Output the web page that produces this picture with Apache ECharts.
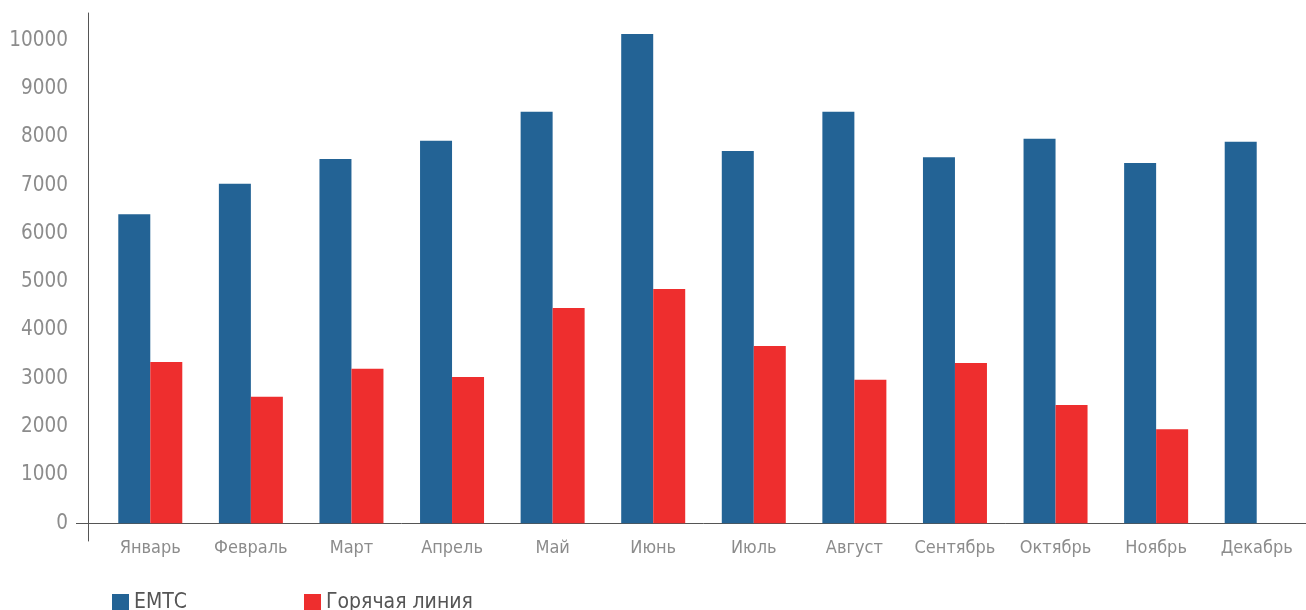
<!DOCTYPE html>
<html>
<head>
<meta charset="utf-8">
<script src="https://cdn.jsdelivr.net/npm/echarts@6/dist/echarts.min.js"></script>
<style>
  html, body { margin: 0; padding: 0; background: #fff; }
  #chart { width: 1306px; height: 610px; }
</style>
</head>
<body>
<div id="chart"></div>
<script>
var months = ['Январь', 'Февраль', 'Март', 'Апрель', 'Май', 'Июнь', 'Июль', 'Август', 'Сентябрь', 'Октябрь', 'Ноябрь', 'Декабрь'];
var emtc = [6400, 7030, 7540, 7920, 8520, 10130, 7710, 8520, 7580, 7960, 7460, 7900];
var hotline = [3340, 2620, 3200, 3030, 4460, 4850, 3670, 2970, 3320, 2450, 1950, 0];
var yTicks = [0, 1000, 2000, 3000, 4000, 5000, 6000, 7000, 8000, 9000, 10000];

var font = "'DejaVu Sans Condensed', 'DejaVu Sans', sans-serif";
var axisColor = '#555';
var labelColor = '#8c8c8c';

var chart = echarts.init(document.getElementById('chart'));
var option = {
    animation: false,
    textStyle: { fontFamily: font },
    grid: { left: 100, right: -1, top: 13, bottom: 69, outerBoundsMode: 'none' },
    legend: [
        { data: ['ЕМТС'], left: 112, top: 592, padding: 0, itemWidth: 17, itemHeight: 17,
          icon: 'rect', textStyle: { color: '#555', fontSize: 21, fontFamily: font } },
        { data: ['Горячая линия'], left: 304, top: 592, padding: 0, itemWidth: 17, itemHeight: 17,
          icon: 'rect', textStyle: { color: '#555', fontSize: 21, fontFamily: font } }
    ],
    xAxis: {
        type: 'category',
        data: months,
        axisLine: { onZero: true, lineStyle: { color: axisColor, width: 1 } },
        axisTick: { show: false },
        axisLabel: { interval: 0, color: labelColor, fontSize: 18, margin: -2, fontFamily: font }
    },
    yAxis: [
        {
            type: 'value',
            position: 'left',
            offset: 12,
            min: -366,
            max: 10565,
            axisLine: { show: true, lineStyle: { color: axisColor, width: 1 } },
            axisTick: { show: false },
            splitLine: { show: false },
            axisLabel: {
                customValues: yTicks, color: labelColor, fontSize: 20.5, margin: 20, fontFamily: font,
                padding: [7, 0, 0, 0],
                formatter: function (v) { return String(v); }
            }
        },
        {
            type: 'value',
            position: 'left',
            offset: 0,
            min: -366,
            max: 10565,
            axisLine: { show: false },
            axisLabel: { show: false },
            splitLine: { show: false },
            axisTick: { show: true, customValues: [0], length: 24, lineStyle: { color: axisColor, width: 1 } }
        }
    ],
    series: [
        { name: 'ЕМТС', type: 'bar', data: emtc, barWidth: 32, barGap: '0%',
          itemStyle: { color: '#236395' } },
        { name: 'Горячая линия', type: 'bar', data: hotline, barWidth: 32, barGap: '0%',
          itemStyle: { color: '#ee2e2e' } }
    ]
};
chart.setOption(option);
</script>
</body>
</html>
